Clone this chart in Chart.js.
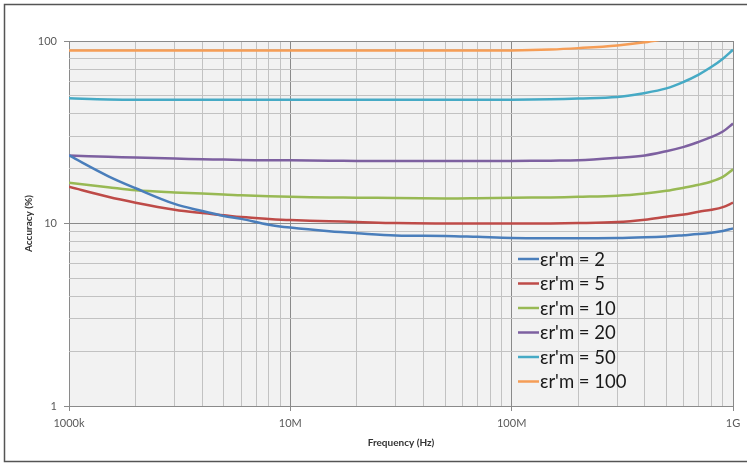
<!DOCTYPE html>
<html>
<head>
<meta charset="utf-8">
<script src="https://cdn.jsdelivr.net/npm/chart.js@4.4.1/dist/chart.umd.min.js"></script>
<style>
  body { margin: 0; background: #fff; }
  #wrap { position: relative; width: 747px; height: 464px; }
</style>
</head>
<body>
<div id="wrap"><canvas id="accChart"></canvas></div>
<script>
var freqs = [1e6, 1.5e6, 2e6, 3e6, 4e6, 5e6, 6e6, 8e6, 1e7, 1.5e7, 2e7, 3e7, 5e7, 7e7,
             1e8, 1.5e8, 2e8, 3e8, 4e8, 5e8, 6e8, 7e8, 8e8, 9e8, 1e9];

var seriesLabels = ["εr'm = 2", "εr'm = 5", "εr'm = 10", "εr'm = 20", "εr'm = 50", "εr'm = 100"];
var seriesColors = ['#4a7ebb', '#be4b48', '#98b954', '#7d60a0', '#46aac5', '#f59d56'];

var acc2   = [23.6, 18.2, 15.6, 12.8, 11.7, 11.0, 10.6, 9.85, 9.5, 9.07, 8.85, 8.6, 8.55, 8.45,
              8.34, 8.3, 8.3, 8.32, 8.4, 8.5, 8.63, 8.75, 8.9, 9.1, 9.4];
var acc5   = [15.9, 14.0, 13.0, 11.9, 11.4, 11.1, 10.85, 10.6, 10.45, 10.3, 10.2, 10.05, 10.0, 10.0,
              10.0, 10.0, 10.05, 10.2, 10.5, 10.9, 11.2, 11.6, 11.9, 12.3, 13.0];
var acc10  = [16.7, 15.8, 15.2, 14.8, 14.6, 14.4, 14.3, 14.1, 14.0, 13.9, 13.85, 13.8, 13.7, 13.75,
              13.85, 13.9, 14.0, 14.2, 14.6, 15.1, 15.7, 16.3, 17.0, 18.0, 19.8];
var acc20  = [23.6, 23.2, 23.0, 22.7, 22.5, 22.4, 22.3, 22.2, 22.2, 22.1, 22.0, 22.0, 22.0, 22.0,
              22.0, 22.1, 22.2, 22.9, 23.6, 24.9, 26.3, 28.0, 29.8, 31.9, 35.3];
var acc50  = [48.5, 47.8, 47.7, 47.7, 47.7, 47.7, 47.7, 47.7, 47.7, 47.7, 47.7, 47.7, 47.7, 47.7,
              47.7, 48.0, 48.4, 49.3, 51.9, 55.0, 59.8, 65.5, 72.2, 80.0, 89.5];
var acc100 = [88.8, 88.8, 88.8, 88.8, 88.8, 88.8, 88.8, 88.8, 88.8, 88.8, 88.8, 88.8, 88.8, 88.8,
              88.8, 89.8, 91.4, 94.6, 98.5, 103, null, null, null, null, null];

var allSeries = [acc2, acc5, acc10, acc20, acc50, acc100];

var xTickValues = [1e6, 1e7, 1e8, 1e9];
var xTickLabels = ['1000k', '10M', '100M', '1G'];
var yTickValues = [1, 10, 100];
var yTickLabels = ['1', '10', '100'];

// 1..9 x each decade, like Excel's minor gridlines
function logTicks(scale) {
  var lo = Math.round(Math.log10(scale.min));
  var hi = Math.round(Math.log10(scale.max));
  var t = [];
  for (var e = lo; e <= hi; e++) {
    for (var m = 1; m <= 9; m++) {
      var v = m * Math.pow(10, e);
      if (v > scale.max * 1.0000001) break;
      t.push({ value: v, major: m === 1 });
    }
  }
  scale.ticks = t;
}

function pickLabel(values, labels, v) {
  for (var i = 0; i < values.length; i++) {
    if (Math.abs(values[i] - v) / values[i] < 1e-6) return labels[i];
  }
  return '';
}

var datasets = [];
for (var s = 0; s < allSeries.length; s++) {
  var pts = [];
  for (var i = 0; i < freqs.length; i++) {
    pts.push({ x: freqs[i], y: allSeries[s][i] });
  }
  datasets.push({
    label: seriesLabels[s],
    data: pts,
    borderColor: seriesColors[s],
    backgroundColor: seriesColors[s],
    borderWidth: 2.5,
    pointRadius: 0,
    tension: 0.35,
    spanGaps: false
  });
}

var plotBg = {
  id: 'plotBg',
  beforeDraw: function(chart) {
    var c = chart.ctx, a = chart.chartArea;
    c.save();
    c.fillStyle = '#f2f2f2';
    c.fillRect(a.left, a.top, a.right - a.left, a.bottom - a.top);
    c.strokeStyle = '#555';
    c.lineWidth = 1.5;
    c.strokeRect(4.5, 4.5, 760, 457);
    c.restore();
  }
};

// legend drawn inside the plot, bottom right
var innerLegend = {
  id: 'innerLegend',
  afterDatasetsDraw: function(chart) {
    var c = chart.ctx;
    var x0 = 518, y0 = 259, rowH = 24.5;
    c.save();
    c.font = '18.5px Lato, "Open Sans", sans-serif';
    c.textBaseline = 'middle';
    chart.data.datasets.forEach(function(ds, i) {
      var y = y0 + i * rowH;
      c.strokeStyle = ds.borderColor;
      c.lineWidth = 2.5;
      c.beginPath();
      c.moveTo(x0, y);
      c.lineTo(x0 + 21, y);
      c.stroke();
      c.fillStyle = '#1a1a1a';
      c.fillText(ds.label, x0 + 22, y + 1);
    });
    c.restore();
  }
};

var ctx = document.getElementById('accChart').getContext('2d');
var myChart = new Chart(ctx, {
  type: 'line',
  data: { datasets: datasets },
  plugins: [plotBg, innerLegend],
  options: {
    responsive: true,
    maintainAspectRatio: false,
    animation: false,
    layout: { padding: { left: 19, right: 14, top: 41, bottom: 11 } },
    plugins: {
      legend: { display: false },
      tooltip: { enabled: false }
    },
    scales: {
      x: {
        type: 'logarithmic',
        min: 1e6,
        max: 1e9,
        afterBuildTicks: logTicks,
        afterFit: function(scale) { scale.height = 47; },
        border: { display: false },
        grid: {
          color: function(c) { return c.tick && c.tick.major ? '#8a8a8a' : '#c2c2c2'; },
          tickColor: function(c) { return c.tick && c.tick.major ? '#8a8a8a' : 'rgba(0,0,0,0)'; },
          tickLength: 5
        },
        ticks: {
          autoSkip: false,
          maxRotation: 0,
          padding: 6,
          color: '#595959',
          font: { family: 'Lato, "Open Sans", sans-serif', size: 11 },
          callback: function(v) { return pickLabel(xTickValues, xTickLabels, v); }
        },
        title: {
          display: true,
          text: 'Frequency (Hz)',
          color: '#333',
          padding: { top: 2, bottom: 4 },
          font: { family: 'Lato, "Open Sans", sans-serif', size: 10, weight: 'bold' }
        }
      },
      y: {
        type: 'logarithmic',
        min: 1,
        max: 100,
        afterBuildTicks: logTicks,
        afterFit: function(scale) { scale.width = 50; },
        border: { display: false },
        grid: {
          color: function(c) { return c.tick && c.tick.major ? '#8a8a8a' : '#c2c2c2'; },
          tickColor: function(c) { return c.tick && c.tick.major ? '#8a8a8a' : 'rgba(0,0,0,0)'; },
          tickLength: 5
        },
        ticks: {
          autoSkip: false,
          padding: 7,
          color: '#595959',
          font: { family: 'Lato, "Open Sans", sans-serif', size: 11 },
          callback: function(v) { return pickLabel(yTickValues, yTickLabels, v); }
        },
        title: {
          display: true,
          text: 'Accuracy (%)',
          color: '#333',
          padding: { top: 4, bottom: 2 },
          font: { family: 'Lato, "Open Sans", sans-serif', size: 10, weight: 'bold' }
        }
      }
    }
  }
});
</script>
</body>
</html>
